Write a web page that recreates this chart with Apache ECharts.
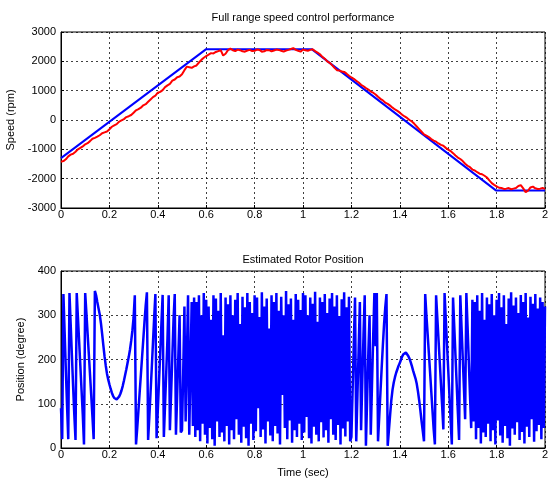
<!DOCTYPE html>
<html>
<head>
<meta charset="UTF-8">
<script type="text/javascript" src="https://cdn.jsdelivr.net/npm/echarts@6/dist/echarts.min.js"></script>
<style>
	html, body { margin: 0; padding: 0; background: #fff; }
	#chart { width: 549px; height: 481px; }
</style>
</head>
<body>
<div id="chart"></div>
<script type="text/javascript">
	// reference speed (corners of the trapezoid), [time, rpm]
	var refSpeed = [[0, -1300], [0.6, 2415], [1.036, 2415], [1.797, -2400], [2, -2400]];

	// measured speed, one value every 0.01 s
	var measTimeStep = 0.01;
	var measSpeed = [
		-1420, -1400, -1340, -1240, -1180, -1150, -1080, -1000, -950, -900,
		-830, -790, -720, -640, -610, -570, -520, -450, -420, -390,
		-320, -230, -180, -140, -60, -10, 30, 100, 130, 170,
		250, 330, 370, 420, 500, 540, 620, 700, 780, 830,
		930, 960, 1020, 1120, 1180, 1230, 1340, 1380, 1460, 1480,
		1560, 1700, 1820, 1800, 1780, 1830, 1860, 1960, 2050, 2120,
		2180, 2230, 2280, 2270, 2320, 2350, 2380, 2200, 2260, 2380,
		2430, 2380, 2350, 2400, 2380, 2340, 2330, 2370, 2390, 2350,
		2360, 2400, 2390, 2330, 2340, 2390, 2380, 2340, 2370, 2400,
		2390, 2360, 2330, 2370, 2390, 2420, 2450, 2390, 2360, 2330,
		2400, 2380, 2360, 2390, 2410, 2350, 2300, 2240, 2150, 2090,
		2000, 1950, 1870, 1780, 1700, 1690, 1650, 1640, 1580, 1510,
		1450, 1400, 1340, 1280, 1200, 1150, 1090, 1040, 970, 930,
		870, 790, 720, 670, 590, 550, 490, 420, 360, 310,
		250, 180, 120, 70, 0, -50, -130, -220, -310, -400,
		-490, -530, -580, -650, -700, -740, -800, -850, -880, -950,
		-1010, -1060, -1130, -1210, -1280, -1330, -1400, -1490, -1560, -1610,
		-1690, -1720, -1780, -1830, -1850, -1900, -1960, -2060, -2150, -2210,
		-2260, -2310, -2320, -2350, -2340, -2320, -2360, -2340, -2320, -2250,
		-2220, -2330, -2460, -2410, -2300, -2270, -2330, -2350, -2340, -2320,
		-2350
	];

	// estimated rotor position, sampled every 0.005 s, split in pieces
	var posStep = 0.005;
	var posA = [90, 20, 348, 262, 176, 95, 20, 350, 280, 210, 140, 75, 18, 350, 295, 240, 185, 130, 75, 8,
		350, 305, 258, 212, 165, 118, 70, 20, 355];
	var posB = [345, 330, 316, 302, 282, 258, 232, 207, 186, 168, 155, 144, 134, 125, 118, 113, 110, 110, 112, 116,
		122, 130, 140, 152, 165, 178, 192, 206, 222, 242, 265, 295, 345];
	var posC = [8, 45, 85, 125, 165, 205, 245, 285, 322, 352, 18, 70, 125, 180, 238, 295, 348,
		22, 85, 150, 215, 282, 346, 25, 98, 172, 248, 345, 40, 122, 205, 290, 348, 30, 118, 210, 300, 35];
	var posD = [40, 170, 320, 60, 200, 345, 30, 180, 330, 50,
		340, 25, 330, 40, 345, 15, 300, 55, 350, 30,
		335, 10, 320, 45, 290, 20, 345, 5, 338, 60,
		310, 25, 350, 35, 255, 15, 340, 50, 325, 8,
		345, 40, 300, 20, 335, 65, 350, 30, 280, 12,
		342, 48, 318, 22, 350, 5, 330, 55, 305, 18,
		345, 38, 340, 90, 296, 25, 352, 42, 320, 10,
		338, 60, 270, 28, 345, 15, 330, 50, 350, 33,
		310, 8, 342, 120, 300, 45, 355, 20, 325, 62,
		338, 12, 290, 40, 348, 25, 335, 55, 312, 18,
		350, 35, 345, 70, 300, 22, 340, 10, 326, 48,
		353, 30, 285, 15, 340, 58, 330, 24, 348, 40,
		305, 12, 338, 65, 350, 30, 320, 18, 345, 52,
		298, 8, 336, 44, 352, 26, 318, 60, 342, 15,
		25, 130, 240, 340, 15, 120, 225, 330, 40, 150, 255, 345, 5, 110, 215, 300, 30, 140, 250, 350, 230];
	var posE = [350, 15, 70, 125, 180, 232, 280, 318, 348, 5,
		40, 75, 108, 132, 148, 160, 170, 178, 186, 192,
		200, 207, 212, 216, 216, 213, 208, 202, 194, 185,
		175, 166, 157, 145, 128, 108, 85, 60, 38, 15, 348];
	var posG = [300, 258, 215, 172, 128, 85, 42, 8, 345, 295, 245, 195, 145, 95, 42, 350,
		292, 235, 178, 120, 62, 8, 340, 275, 210, 145, 80, 18, 345, 275, 205, 135, 65, 350,
		275, 198, 120, 45, 335,
		60, 330, 20, 345, 45, 310, 10, 350, 35, 290,
		25, 340, 55, 325, 15, 348, 40, 300, 8, 335,
		62, 350, 28, 318, 12, 345, 50, 280, 22, 338,
		5, 352, 44, 322, 30, 340, 58, 305, 18, 346,
		36, 330, 10, 350, 48, 295, 25, 342, 65, 326,
		14, 348, 38, 315, 52, 340, 20, 330, 45, 320];
	var posPieces = [[0, posA], [0.145, posB], [0.31, posC], [0.5, posD], [1.305, posE], [1.51, posG]];

	var timeTicks = ['0', '0.2', '0.4', '0.6', '0.8', '1', '1.2', '1.4', '1.6', '1.8', '2'];

	var measData = measSpeed.map(function(v, i) {
		return [+(i * measTimeStep).toFixed(3), v];
	});
	var posData = [];
	posPieces.forEach(function(p) {
		p[1].forEach(function(v, k) {
			posData.push([+(p[0] + k * posStep).toFixed(4), v]);
		});
	});

	var fontName = '"Liberation Sans", Arial, sans-serif';
	var gridLine = { show: true, lineStyle: { color: '#000', type: [2, 3], width: 1, opacity: 0.75 } };
	var tickLabel = { color: '#000', fontFamily: fontName, fontSize: 11 };

	function xAxisFor(idx, name) {
		return {
			type: 'value', gridIndex: idx, min: 0, max: 2, interval: 0.2,
			name: name, nameLocation: 'middle', nameGap: 19,
			nameTextStyle: { color: '#000', fontFamily: fontName, fontSize: 11 },
			axisLine: { onZero: false, lineStyle: { color: '#000' } },
			axisTick: { inside: true, length: 3, lineStyle: { color: '#000' } },
			axisLabel: Object.assign({ margin: 1, formatter: function(v) {
				return timeTicks[Math.round(v / 0.2)];
			} }, tickLabel),
			splitLine: gridLine
		};
	}

	function yAxisFor(idx, name, lo, hi, step, gap) {
		return {
			type: 'value', gridIndex: idx, min: lo, max: hi, interval: step,
			name: name, nameLocation: 'middle', nameGap: gap,
			nameTextStyle: { color: '#000', fontFamily: fontName, fontSize: 11 },
			axisLine: { show: true, onZero: false, lineStyle: { color: '#000' } },
			axisTick: { show: true, inside: true, length: 3, lineStyle: { color: '#000' } },
			axisLabel: Object.assign({ margin: 5, formatter: function(v) { return String(v); } }, tickLabel),
			splitLine: gridLine
		};
	}

	var myChart = echarts.init(document.getElementById('chart'), null, { renderer: 'canvas' });
	var option = {
		animation: false,
		backgroundColor: '#fff',
		title: [{
			text: 'Full range speed control performance',
			left: 303, top: 12, padding: 0, textAlign: 'center',
			textStyle: { color: '#000', fontFamily: fontName, fontSize: 11, fontWeight: 'normal' }
		}, {
			text: 'Estimated Rotor Position',
			left: 303, top: 254, padding: 0, textAlign: 'center',
			textStyle: { color: '#000', fontFamily: fontName, fontSize: 11, fontWeight: 'normal' }
		}],
		grid: [
			{ left: 61, top: 32, width: 484, height: 176, show: true, borderColor: '#000', borderWidth: 1,
				containLabel: false, outerBoundsMode: 'none' },
			{ left: 61, top: 271, width: 484, height: 177, show: true, borderColor: '#000', borderWidth: 1,
				containLabel: false, outerBoundsMode: 'none' }
		],
		xAxis: [xAxisFor(0, ''), xAxisFor(1, 'Time (sec)')],
		yAxis: [
			yAxisFor(0, 'Speed (rpm)', -3000, 3000, 1000, 42),
			yAxisFor(1, 'Position (degree)', 0, 400, 100, 31)
		],
		series: [{
			name: 'reference', type: 'line', xAxisIndex: 0, yAxisIndex: 0,
			data: refSpeed, symbol: 'none',
			lineStyle: { color: '#0000ff', width: 2 }
		}, {
			name: 'measured', type: 'line', xAxisIndex: 0, yAxisIndex: 0,
			data: measData, symbol: 'none',
			lineStyle: { color: '#ff0000', width: 2 }
		}, {
			name: 'position', type: 'line', xAxisIndex: 1, yAxisIndex: 1,
			data: posData, symbol: 'none',
			lineStyle: { color: '#0000ff', width: 2.5 }
		}]
	};
	myChart.setOption(option);
</script>
</body>
</html>
